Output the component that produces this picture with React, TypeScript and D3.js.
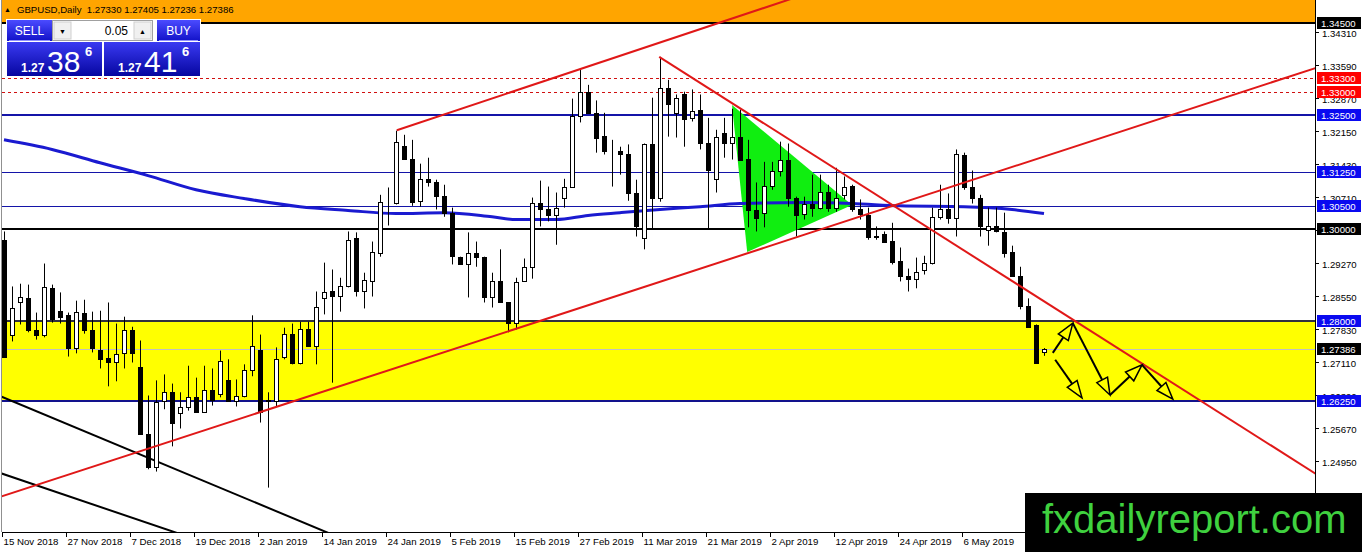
import React from "react";
import * as d3 from "d3";

// chart window size
const width = 1362;
const height = 552;
const plot = { left: 2, right: 1315, top: 0, bottom: 532 };

// daily candles [open, high, low, close], 15 Nov 2018 .. 20 May 2019
const candles: [number, number, number, number][] = [
    [1.2977, 1.2995, 1.272, 1.2722], [1.277, 1.2875, 1.2755, 1.2827], [1.284, 1.2881, 1.2792, 1.2851],
    [1.2849, 1.2879, 1.2775, 1.2779], [1.2781, 1.2818, 1.2759, 1.2768], [1.2768, 1.2925, 1.2764, 1.2873],
    [1.2871, 1.2879, 1.2796, 1.2805], [1.2822, 1.2862, 1.2794, 1.2809], [1.2812, 1.2818, 1.2722, 1.274],
    [1.274, 1.2844, 1.2729, 1.282], [1.2818, 1.2846, 1.2772, 1.2779], [1.2781, 1.282, 1.2731, 1.274],
    [1.2737, 1.2822, 1.2696, 1.2716], [1.2718, 1.284, 1.2657, 1.2711], [1.2711, 1.2794, 1.2668, 1.2727],
    [1.2729, 1.2809, 1.2696, 1.2779], [1.2779, 1.2787, 1.2709, 1.2729], [1.27, 1.2757, 1.2552, 1.2554],
    [1.2554, 1.2637, 1.2476, 1.248], [1.248, 1.267, 1.2471, 1.2622], [1.2624, 1.2683, 1.2607, 1.2644],
    [1.2644, 1.2663, 1.2526, 1.2578], [1.2598, 1.2644, 1.2565, 1.2611], [1.2611, 1.2702, 1.2604, 1.2633],
    [1.2633, 1.2676, 1.2602, 1.2602], [1.2602, 1.2702, 1.2602, 1.2648], [1.265, 1.2696, 1.2615, 1.2628],
    [1.2641, 1.2735, 1.2633, 1.2713], [1.267, 1.2716, 1.2626, 1.2626], [1.2624, 1.2672, 1.2613, 1.2635],
    [1.2635, 1.2705, 1.2633, 1.2692], [1.2692, 1.2812, 1.2679, 1.2744], [1.2737, 1.277, 1.2578, 1.26],
    [1.2626, 1.2644, 1.2436, 1.2628], [1.2624, 1.2742, 1.2613, 1.2716], [1.272, 1.2785, 1.2716, 1.2772],
    [1.2772, 1.2794, 1.2705, 1.2709], [1.2709, 1.2798, 1.2705, 1.2783], [1.2783, 1.2798, 1.2744, 1.2744],
    [1.2744, 1.2864, 1.2705, 1.2831], [1.2849, 1.2927, 1.2814, 1.2862], [1.2864, 1.2912, 1.2665, 1.2855],
    [1.2855, 1.2894, 1.282, 1.2875], [1.2875, 1.2995, 1.2873, 1.2977], [1.298, 1.2993, 1.2853, 1.2864],
    [1.2866, 1.2905, 1.2827, 1.2888], [1.2886, 1.2973, 1.2853, 1.2951], [1.2949, 1.3075, 1.294, 1.306],
    [1.306, 1.3091, 1.3008, 1.306], [1.3058, 1.3215, 1.3054, 1.3191], [1.3182, 1.3206, 1.3152, 1.3154],
    [1.3154, 1.3195, 1.3051, 1.306], [1.3062, 1.3143, 1.3049, 1.311], [1.311, 1.3156, 1.3093, 1.3102],
    [1.3102, 1.3108, 1.3043, 1.3073], [1.3073, 1.3097, 1.3027, 1.3036], [1.3036, 1.3047, 1.2923, 1.2942],
    [1.294, 1.294, 1.2923, 1.2925], [1.2925, 1.2993, 1.2851, 1.2947], [1.2947, 1.2973, 1.2918, 1.294],
    [1.294, 1.294, 1.284, 1.2853], [1.2853, 1.2905, 1.2829, 1.2886], [1.2886, 1.2956, 1.284, 1.284],
    [1.284, 1.284, 1.2775, 1.2796], [1.2796, 1.2894, 1.2781, 1.2884], [1.2886, 1.2936, 1.2886, 1.2918],
    [1.2918, 1.3069, 1.2892, 1.3058], [1.3058, 1.3106, 1.3006, 1.3045], [1.3045, 1.3093, 1.3017, 1.3032],
    [1.3032, 1.308, 1.2966, 1.3047], [1.3067, 1.311, 1.3047, 1.3091], [1.3091, 1.3285, 1.3091, 1.3246],
    [1.3246, 1.3348, 1.3233, 1.33], [1.33, 1.3315, 1.3254, 1.3254], [1.3254, 1.3281, 1.3167, 1.32],
    [1.3204, 1.3254, 1.3163, 1.3171], [1.3171, 1.3195, 1.3093, 1.3171], [1.3171, 1.318, 1.3119, 1.3165],
    [1.3165, 1.3185, 1.3062, 1.3078], [1.3078, 1.3108, 1.2984, 1.3008], [1.298, 1.3187, 1.2956, 1.3185],
    [1.3185, 1.3287, 1.2999, 1.3069], [1.3069, 1.3376, 1.306, 1.3309], [1.3309, 1.3326, 1.3202, 1.3274],
    [1.3254, 1.3294, 1.32, 1.3287], [1.3294, 1.33, 1.318, 1.3241], [1.3243, 1.3305, 1.3235, 1.3259],
    [1.3261, 1.3294, 1.3174, 1.3189], [1.3189, 1.3243, 1.2999, 1.313], [1.311, 1.3217, 1.308, 1.3202],
    [1.3209, 1.3243, 1.3156, 1.3189], [1.3189, 1.3263, 1.3152, 1.3202], [1.3202, 1.3261, 1.3152, 1.3152],
    [1.3154, 1.3195, 1.3004, 1.3041], [1.3041, 1.3102, 1.2995, 1.3025], [1.3036, 1.3147, 1.3004, 1.3095],
    [1.3095, 1.3147, 1.3086, 1.3126], [1.3126, 1.3191, 1.3115, 1.315], [1.315, 1.3187, 1.3049, 1.3069],
    [1.3069, 1.3071, 1.2984, 1.3032], [1.3034, 1.3071, 1.3021, 1.3054], [1.3054, 1.3119, 1.3027, 1.3047],
    [1.3047, 1.3119, 1.3043, 1.3082], [1.3082, 1.3097, 1.3038, 1.3047], [1.3047, 1.3134, 1.3038, 1.3067],
    [1.3075, 1.3115, 1.3065, 1.3093], [1.3095, 1.3097, 1.3038, 1.3043], [1.3043, 1.3065, 1.3021, 1.3034],
    [1.3032, 1.3047, 1.2977, 1.2984], [1.2986, 1.3006, 1.2977, 1.2984], [1.299, 1.2995, 1.2971, 1.2973],
    [1.2975, 1.3014, 1.2923, 1.2929], [1.2931, 1.296, 1.2886, 1.2897], [1.2897, 1.2914, 1.2864, 1.2892],
    [1.2892, 1.2938, 1.2871, 1.2907], [1.291, 1.2942, 1.2901, 1.2927], [1.2927, 1.3047, 1.2923, 1.3027],
    [1.3027, 1.3097, 1.3021, 1.3045], [1.3043, 1.3078, 1.3012, 1.3025], [1.3025, 1.3174, 1.2984, 1.3165],
    [1.3161, 1.3167, 1.3086, 1.3091], [1.3091, 1.3128, 1.3056, 1.3069], [1.3069, 1.3075, 1.2984, 1.3006],
    [1.2999, 1.3047, 1.2964, 1.3006], [1.3006, 1.3047, 1.2993, 1.2995], [1.2993, 1.3036, 1.2938, 1.2949],
    [1.2951, 1.2964, 1.2897, 1.2897], [1.2897, 1.2918, 1.2825, 1.2833], [1.2833, 1.2849, 1.2785, 1.2787],
    [1.279, 1.2792, 1.2709, 1.2709], [1.2733, 1.27405, 1.27236, 1.27386],
];

const dateLabels = [
    "15 Nov 2018", "27 Nov 2018", "7 Dec 2018", "19 Dec 2018", "2 Jan 2019", "14 Jan 2019",
    "24 Jan 2019", "5 Feb 2019", "15 Feb 2019", "27 Feb 2019", "11 Mar 2019", "21 Mar 2019",
    "2 Apr 2019", "12 Apr 2019", "24 Apr 2019", "6 May 2019",
];
const barsPerLabel = 8;

const priceTicks = [
    1.3431, 1.3359, 1.3287, 1.3215, 1.3143, 1.3071, 1.2999, 1.2927,
    1.2855, 1.2783, 1.2711, 1.2639, 1.2567, 1.2495, 1.2423,
];

// moving average, sampled [bar, value]
const maPoints: [number, number][] = [
    [0, 1.3195], [6, 1.3174], [12, 1.3145], [18, 1.3117], [24, 1.3086], [30, 1.3067],
    [37, 1.3049], [43, 1.3041], [49, 1.3034], [55, 1.3036], [61, 1.3027], [64, 1.3021],
    [69, 1.3021], [73, 1.303], [77, 1.3036], [82, 1.3043], [87, 1.3049], [92, 1.3056],
    [100, 1.3058], [106, 1.3056], [112, 1.3051], [120, 1.3049], [126, 1.3043], [130, 1.3034],
];

// horizontal levels
const topZone = 1.345;
const redLevels = [1.333, 1.33];
const blueThick = 1.325;
const blueThin = [1.3125, 1.305];
const roundLevel = 1.3;
const zoneTop = 1.28;
const zoneBottom = 1.2625;
const bid = 1.27386;
const header = "GBPUSD,Daily  1.27330 1.27405 1.27236 1.27386";

// trend lines as two [bar, price] anchors
const redLines: [number, number][][] = [
    [[49.1, 1.3216], [100, 1.3512]],
    [[-0.25, 1.2417], [164, 1.3352]],
    [[81.9, 1.3376], [160, 1.251]],
];
const blackLines: [number, number][][] = [
    [[-0.5, 1.2636], [40, 1.2341]],
    [[-0.5, 1.2468], [25, 1.2317]],
];
const triangle: [number, number][] = [[91, 1.3271], [92.9, 1.295], [106, 1.3053]];

// projected path arrows
const arrowPath: [number, number][] = [
    [131.1, 1.273], [133.6, 1.2795], [138.25, 1.2638], [142.25, 1.2704], [146.1, 1.2629],
];
const arrowSingle: [number, number][] = [[131.4, 1.2715], [134.75, 1.2632]];

const font = "'Liberation Sans', Arial, sans-serif";

const App: React.FC = () => {
    const x = d3.scaleLinear().domain([0, 130]).range([4, 1044]);
    const y = d3.scaleLinear().domain([1.345, 1.2625]).range([23, 401]);

    const px = (p: [number, number]): [number, number] => [x(p[0]), y(p[1])];

    // stretch a two-point line far to both sides, clip does the rest
    const longLine = (a: [number, number], b: [number, number], back: boolean) => {
        const [x1, y1] = px(a);
        const [x2, y2] = px(b);
        const k = 20;
        const sx = back ? x1 - (x2 - x1) * k : x1;
        const sy = back ? y1 - (y2 - y1) * k : y1;
        return { x1: sx, y1: sy, x2: x1 + (x2 - x1) * k, y2: y1 + (y2 - y1) * k };
    };

    const arrow = (a: [number, number], b: [number, number], key: string) => {
        const [x1, y1] = px(a);
        const [x2, y2] = px(b);
        const len = Math.hypot(x2 - x1, y2 - y1);
        const ux = (x2 - x1) / len;
        const uy = (y2 - y1) / len;
        const hl = 17;
        const hw = 6;
        const bx = x2 - ux * hl;
        const by = y2 - uy * hl;
        return (
            <g key={key}>
                <line x1={x1} y1={y1} x2={bx} y2={by} stroke="#000" strokeWidth={2} />
                <polygon
                    points={`${x2},${y2} ${bx - uy * hw},${by + ux * hw} ${bx + uy * hw},${by - ux * hw}`}
                    fill="none"
                    stroke="#000"
                    strokeWidth={1.5}
                />
            </g>
        );
    };

    const maLine = d3
        .line<[number, number]>()
        .x((d) => x(d[0]))
        .y((d) => y(d[1]))
        .curve(d3.curveMonotoneX);

    const hline = (p: number, color: string, w: number, dash?: string, key?: string) => (
        <line
            key={key}
            x1={plot.left}
            x2={plot.right}
            y1={Math.round(y(p)) + (w % 2 ? 0.5 : 0)}
            y2={Math.round(y(p)) + (w % 2 ? 0.5 : 0)}
            stroke={color}
            strokeWidth={w}
            strokeDasharray={dash}
        />
    );

    const levelLabel = (p: number, bg: string, key: string) => {
        const cy = Math.round(y(p));
        return (
            <g key={key}>
                <rect x={1317} y={cy - 6} width={44} height={12} fill={bg} />
                <text x={1321} y={cy + 4} fill="#fff" fontSize={9.6} fontFamily={font}>
                    {p.toFixed(5)}
                </text>
            </g>
        );
    };

    return (
        <div style={{ position: "absolute", left: 0, top: 0 }}>
            <style>{"body{margin:0}"}</style>
            <svg width={width} height={height} style={{ display: "block" }}>
                <defs>
                    <clipPath id="plotClip">
                        <rect x={plot.left} y={plot.top} width={plot.right - plot.left} height={plot.bottom - plot.top} />
                    </clipPath>
                    <linearGradient id="btn" x1="0" y1="0" x2="0" y2="1">
                        <stop offset="0" stopColor="#4b4bff" />
                        <stop offset="1" stopColor="#1212c8" />
                    </linearGradient>
                    <linearGradient id="quote" x1="0" y1="0" x2="0" y2="1">
                        <stop offset="0" stopColor="#3a3af2" />
                        <stop offset="1" stopColor="#0606a0" />
                    </linearGradient>
                </defs>

                <rect width={width} height={height} fill="#fff" />

                <g clipPath="url(#plotClip)">
                    {/* zones */}
                    <rect x={plot.left} y={0} width={plot.right - plot.left} height={y(topZone)} fill="#ffa500" />
                    <rect
                        x={plot.left}
                        y={y(zoneTop)}
                        width={plot.right - plot.left}
                        height={y(zoneBottom) - y(zoneTop)}
                        fill="#ffff00"
                    />

                    {/* levels */}
                    {hline(topZone, "#000", 2)}
                    {redLevels.map((p, i) => hline(p, "#d01010", 1, "3,3", `r${i}`))}
                    {hline(blueThick, "#1414a8", 2)}
                    {blueThin.map((p, i) => hline(p, "#1414a8", 1, undefined, `b${i}`))}
                    {hline(roundLevel, "#000", 2)}
                    {hline(zoneTop, "#303040", 2)}
                    {hline(zoneBottom, "#12128c", 2)}
                    {hline(bid, "#c0c0c0", 1)}

                    {/* pennant */}
                    <polygon points={triangle.map((p) => px(p).join(",")).join(" ")} fill="#10ee10" />

                    {blackLines.map((l, i) => (
                        <line key={`k${i}`} {...longLine(l[0], l[1], true)} stroke="#000" strokeWidth={2} />
                    ))}

                    {/* moving average */}
                    <path d={maLine(maPoints) || ""} fill="none" stroke="#1a1ad0" strokeWidth={3} />

                    {/* candles */}
                    {candles.map(([o, h, l, c], i) => {
                        const cx = Math.round(x(i)) + 0.5;
                        const top = Math.round(y(Math.max(o, c))) + 0.5;
                        const bot = Math.round(y(Math.min(o, c))) + 0.5;
                        const up = c > o;
                        return (
                            <g key={i}>
                                <line x1={cx} x2={cx} y1={y(h)} y2={y(l)} stroke="#000" strokeWidth={1} />
                                <rect
                                    x={cx - 2}
                                    y={top}
                                    width={4}
                                    height={Math.max(0, bot - top)}
                                    fill={up ? "#fff" : "#000"}
                                    stroke="#000"
                                    strokeWidth={1}
                                />
                            </g>
                        );
                    })}

                    {redLines.map((l, i) => (
                        <line key={`rl${i}`} {...longLine(l[0], l[1], i === 1)} stroke="#e01818" strokeWidth={2} />
                    ))}

                    {arrowPath.slice(1).map((p, i) => arrow(arrowPath[i], p, `a${i}`))}
                    {arrow(arrowSingle[0], arrowSingle[1], "as")}
                </g>

                {/* header */}
                <text x={4} y={12} fontSize={7} fontFamily={font} fill="#000">▲</text>
                <text x={17} y={13} fontSize={9.6} fontFamily={font} fill="#000" style={{ whiteSpace: "pre" }}>
                    {header}
                </text>

                {/* one click trading panel */}
                <rect x={6} y={19} width={195} height={58} fill="#fff" />
                <rect x={7} y={20} width={45} height={21} fill="url(#btn)" />
                <line x1={9} x2={50} y1={40.5} y2={40.5} stroke="#8f8fff" />
                <text x={29.5} y={35} textAnchor="middle" fontSize={12} fontFamily={font} fill="#fff">SELL</text>
                <rect x={52.5} y={20.5} width={100} height={20} fill="#fff" stroke="#a0a0a0" />
                <rect x={54} y={22} width={17} height={17} fill="#f0f0f0" stroke="#d0d0d0" />
                <rect x={134} y={22} width={17} height={17} fill="#f0f0f0" stroke="#d0d0d0" />
                <text x={62.5} y={34} textAnchor="middle" fontSize={7} fontFamily={font} fill="#000">▼</text>
                <text x={142.5} y={34} textAnchor="middle" fontSize={7} fontFamily={font} fill="#000">▲</text>
                <text x={128} y={35} textAnchor="end" fontSize={12} fontFamily={font} fill="#000">0.05</text>
                <rect x={157} y={20} width={43} height={21} fill="url(#btn)" />
                <line x1={159} x2={198} y1={40.5} y2={40.5} stroke="#8f8fff" />
                <text x={178.5} y={35} textAnchor="middle" fontSize={12} fontFamily={font} fill="#fff">BUY</text>

                <rect x={7} y={42} width={95} height={34} fill="url(#quote)" />
                <rect x={104} y={42} width={96} height={34} fill="url(#quote)" />
                <text x={21} y={72} fontSize={12} fontWeight="bold" fontFamily={font} fill="#fff">1.27</text>
                <text x={47} y={72} fontSize={30} fontFamily={font} fill="#fff">38</text>
                <text x={85} y={56} fontSize={13} fontWeight="bold" fontFamily={font} fill="#fff">6</text>
                <text x={118} y={72} fontSize={12} fontWeight="bold" fontFamily={font} fill="#fff">1.27</text>
                <text x={144} y={72} fontSize={30} fontFamily={font} fill="#fff">41</text>
                <text x={182} y={56} fontSize={13} fontWeight="bold" fontFamily={font} fill="#fff">6</text>

                {/* axes */}
                <line x1={1.5} x2={1.5} y1={0} y2={plot.bottom} stroke="#909090" />
                <line x1={plot.right + 0.5} x2={plot.right + 0.5} y1={0} y2={plot.bottom + 1} stroke="#000" />
                <line x1={plot.left} x2={plot.right} y1={plot.bottom + 0.5} y2={plot.bottom + 0.5} stroke="#000" />

                {priceTicks.map((p) => {
                    const ty = Math.round(y(p)) + 0.5;
                    return (
                        <g key={p}>
                            <line x1={plot.right} x2={plot.right + 4} y1={ty} y2={ty} stroke="#000" />
                            <text x={1322} y={ty + 4} fontSize={9.6} fontFamily={font} fill="#000">
                                {p.toFixed(5)}
                            </text>
                        </g>
                    );
                })}

                {dateLabels.map((d, i) => {
                    const tx = Math.round(x(i * barsPerLabel)) - 1.5;
                    return (
                        <g key={d}>
                            <line x1={tx} x2={tx} y1={plot.bottom} y2={plot.bottom + 5} stroke="#000" />
                            <text x={tx + 1} y={545} fontSize={9.7} fontFamily={font} fill="#000">
                                {d}
                            </text>
                        </g>
                    );
                })}

                {/* level labels on the price scale */}
                {levelLabel(topZone, "#000", "l0")}
                {redLevels.map((p, i) => levelLabel(p, "#ff0000", `lr${i}`))}
                {levelLabel(blueThick, "#0a0af0", "lb")}
                {blueThin.map((p, i) => levelLabel(p, "#0a0af0", `lt${i}`))}
                {levelLabel(roundLevel, "#000", "l1")}
                {levelLabel(zoneTop, "#0a0af0", "lz")}
                {levelLabel(bid, "#000", "lbid")}
                {levelLabel(zoneBottom, "#0a0af0", "lzb")}

                {/* watermark */}
                <rect x={1025} y={493} width={337} height={59} fill="#000" />
                <text x={1042} y={533} fontSize={40} fontFamily={font} fill="#3fd13f">
                    fxdailyreport.com
                </text>
            </svg>
        </div>
    );
};

export default App;
